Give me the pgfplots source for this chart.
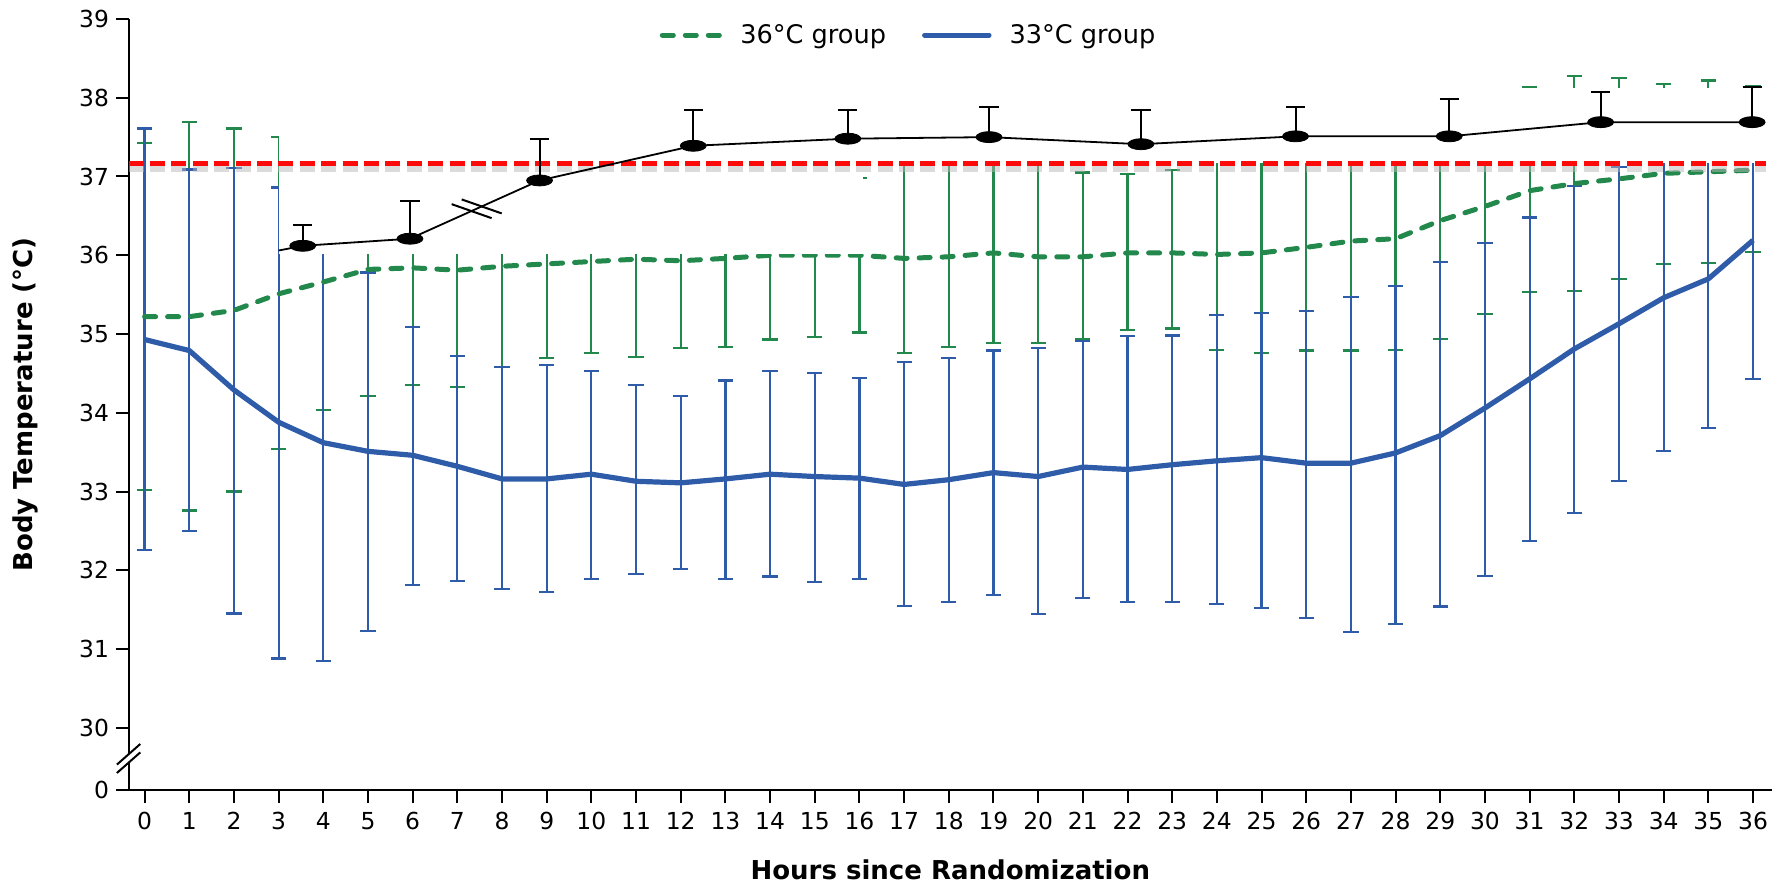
\documentclass[border=0pt]{standalone}
\usepackage{fontspec}
\setmainfont{DejaVu Sans}
\usepackage{pgfplots}
\pgfplotsset{compat=1.18}
\usepackage{pgfplotstable}
\usetikzlibrary{calc}

\definecolor{mygreen}{RGB}{34,136,76}
\definecolor{myblue}{RGB}{46,92,168}
\definecolor{myred}{RGB}{255,10,10}

\pgfplotstableread{
h m u l
0 35.22 37.43 33.02
1 35.22 37.69 32.76
2 35.30 37.61 33.00
3 35.51 37.50 33.54
4 35.66 37.28 34.04
5 35.82 37.43 34.21
6 35.84 37.33 34.35
7 35.81 37.29 34.33
8 35.86 37.14 34.58
9 35.89 37.08 34.70
10 35.92 37.08 34.76
11 35.95 37.19 34.71
12 35.93 37.04 34.82
13 35.96 37.09 34.83
14 36.00 37.07 34.93
15 36.00 37.04 34.96
16 36.00 36.98 35.02
17 35.96 37.25 34.76
18 35.98 37.25 34.84
19 36.03 37.25 34.89
20 35.98 37.25 34.89
21 35.98 37.05 34.94
22 36.03 37.03 35.05
23 36.03 37.08 35.07
24 36.01 37.25 34.80
25 36.03 37.30 34.76
26 36.10 37.41 34.79
27 36.18 37.57 34.79
28 36.21 37.62 34.80
29 36.44 37.94 34.94
30 36.62 37.99 35.25
31 36.82 38.14 35.53
32 36.91 38.28 35.55
33 36.97 38.25 35.70
34 37.04 38.17 35.89
35 37.06 38.22 35.90
36 37.08 38.15 36.04
}\greentab

\pgfplotstableread{
h m u l
0 34.93 37.61 32.26
1 34.79 37.09 32.50
2 34.29 37.11 31.45
3 33.88 36.86 30.88
4 33.62 36.39 30.85
5 33.51 35.78 31.23
6 33.46 35.09 31.81
7 33.32 34.72 31.86
8 33.16 34.58 31.76
9 33.16 34.61 31.72
10 33.22 34.53 31.89
11 33.13 34.35 31.95
12 33.11 34.21 32.02
13 33.16 34.41 31.89
14 33.22 34.53 31.92
15 33.19 34.50 31.85
16 33.17 34.44 31.89
17 33.09 34.64 31.55
18 33.15 34.70 31.60
19 33.24 34.79 31.69
20 33.19 34.82 31.44
21 33.31 34.91 31.65
22 33.28 34.97 31.60
23 33.34 34.98 31.60
24 33.39 35.24 31.57
25 33.43 35.27 31.52
26 33.36 35.29 31.39
27 33.36 35.47 31.22
28 33.49 35.61 31.32
29 33.71 35.91 31.54
30 34.06 36.16 31.93
31 34.43 36.48 32.37
32 34.81 36.88 32.73
33 35.13 37.12 33.13
34 35.46 37.41 33.51
35 35.70 37.59 33.81
36 36.19 37.95 34.43
}\bluetab

\pgfplotstableread{
h m e
3.54 36.12 0.26
5.94 36.21 0.48
8.84 36.95 0.52
12.28 37.39 0.45
15.74 37.48 0.36
18.90 37.50 0.38
22.30 37.41 0.43
25.76 37.51 0.37
29.20 37.51 0.47
32.59 37.69 0.38
35.98 37.69 0.45
}\blacktab

\begin{document}
\begin{tikzpicture}
\begin{axis}[name=ax, scale only axis, width=821.7pt, height=385.5pt,
  xmin=-0.358, xmax=36.425, ymin=29.21, ymax=39,
  axis lines=left, axis line style={-, line width=1pt},
  tick style={black, line width=1pt}, tick align=outside, major tick length=6.3pt,
  xtick={0,...,36}, ytick={29.21,30,31,32,33,34,35,36,37,38,39},
  yticklabels={0,30,31,32,33,34,35,36,37,38,39},
  /pgf/number format/assume math mode=true,
  ticklabel style={font=\fontsize{11.7}{14}\selectfont},
  xticklabel style={yshift=-1.2pt},
  xlabel={Hours since Randomization}, ylabel={Body Temperature (°C)},
  label style={font=\bfseries\fontsize{13}{15}\selectfont},
  xlabel style={at={(axis description cs:0.5,-0.1167)}, anchor=base},
  ylabel style={at={(axis description cs:-0.0584,0.5)}, anchor=base},
  legend style={at={(axis description cs:0.4752,0.979)}, anchor=center, draw=none, fill=none,
    font=\fontsize{12.8}{15}\selectfont, inner sep=0pt},
  legend columns=2,
  /tikz/every odd column/.append style={column sep=7pt},
  /tikz/every even column/.append style={column sep=16pt},
]
\addlegendimage{legend image code/.code={\draw[mygreen, line width=2.5pt, line cap=round, dash pattern=on 5.5pt off 6pt] (1.25pt,0pt) -- (30pt,0pt);}}
\addlegendentry{36°C group}
\addlegendimage{legend image code/.code={\draw[myblue, line width=2.5pt, line cap=round] (1.25pt,0pt) -- (33.5pt,0pt);}}
\addlegendentry{33°C group}

% error bars
\addplot[forget plot, only marks, mark=*, mark size=0pt, mark options={draw=none, fill=none},
  error bars/.cd, y dir=both, y explicit,
  error bar style={draw=mygreen, line width=1.1pt, solid},
  error mark options={draw=mygreen, line width=1.1pt, mark size=3.8pt, rotate=90}]
  table[x=h, y=m, y error plus expr=\thisrow{u}-\thisrow{m}, y error minus expr=\thisrow{m}-\thisrow{l}] {\greentab};
\addplot[forget plot, only marks, mark=*, mark size=0pt, mark options={draw=none, fill=none},
  error bars/.cd, y dir=both, y explicit,
  error bar style={draw=myblue, line width=1.1pt, solid},
  error mark options={draw=myblue, line width=1.1pt, mark size=3.8pt, rotate=90}]
  table[x=h, y=m, y error plus expr=\thisrow{u}-\thisrow{m}, y error minus expr=\thisrow{m}-\thisrow{l}] {\bluetab};
% mean lines
\addplot[forget plot, mygreen, line width=2.5pt, line cap=round, dash pattern=on 5.5pt off 6pt, mark=none] table[x=h, y=m] {\greentab};
\addplot[forget plot, myblue, line width=2.6pt, line join=round, mark=none] table[x=h, y=m] {\bluetab};

% pasted overlay (white cover)
\fill[white] (axis cs:3.0,36.02) rectangle (axis cs:16.08,39.5);
\fill[white] (axis cs:16.08,37.17) rectangle (axis cs:36.6,38.13);

% red reference line with shadow
\addplot[forget plot, black!28, opacity=0.5, line width=3.4pt, yshift=-2.8pt, dash pattern=on 7.5pt off 3.2pt] coordinates {(-0.358,37.17) (36.28,37.17)};
\addplot[forget plot, myred, line width=2.5pt, dash pattern=on 7.5pt off 3.2pt] coordinates {(-0.358,37.17) (36.28,37.17)};

% black overlay series
\addplot[forget plot, black, line width=0.9pt, mark=none] coordinates {(3.0,36.06) (3.54,36.12) (5.94,36.21) (8.84,36.95) (12.28,37.39) (15.74,37.48) (18.90,37.50) (22.30,37.41) (25.76,37.51) (29.20,37.51) (32.59,37.69) (35.98,37.69)};
\addplot[forget plot, black, only marks, mark=*, mark size=2.75pt, mark options={xscale=2.36, fill=black},
  error bars/.cd, y dir=plus, y explicit,
  error bar style={black, line width=1pt},
  error mark options={black, line width=1pt, mark size=4.8pt, rotate=90}]
  table[x=h, y=m, y error=e] {\blacktab};
\draw[black, line width=1pt] (axis cs:7.32,36.56) ++(-10pt,3.5pt) -- ++(20pt,-7pt);
\draw[black, line width=1pt] (axis cs:7.545,36.62) ++(-10pt,3.5pt) -- ++(20pt,-7pt);
\end{axis}
% y-axis break
\fill[white] ($(ax.south west)+(-1.5pt,13.65pt)$) rectangle ($(ax.south west)+(1.5pt,17.85pt)$);
\draw[line width=1pt] ($(ax.south west)+(-5.85pt,8.5pt)$) -- ++(11.7pt,10.3pt);
\draw[line width=1pt] ($(ax.south west)+(-5.85pt,12.7pt)$) -- ++(11.7pt,10.3pt);
\pgfresetboundingbox
\path[use as bounding box] ($(ax.south west)+(-64.3pt,-48.5pt)$) rectangle ($(ax.north east)+(6.5pt,9.5pt)$);
\end{tikzpicture}
\end{document}
